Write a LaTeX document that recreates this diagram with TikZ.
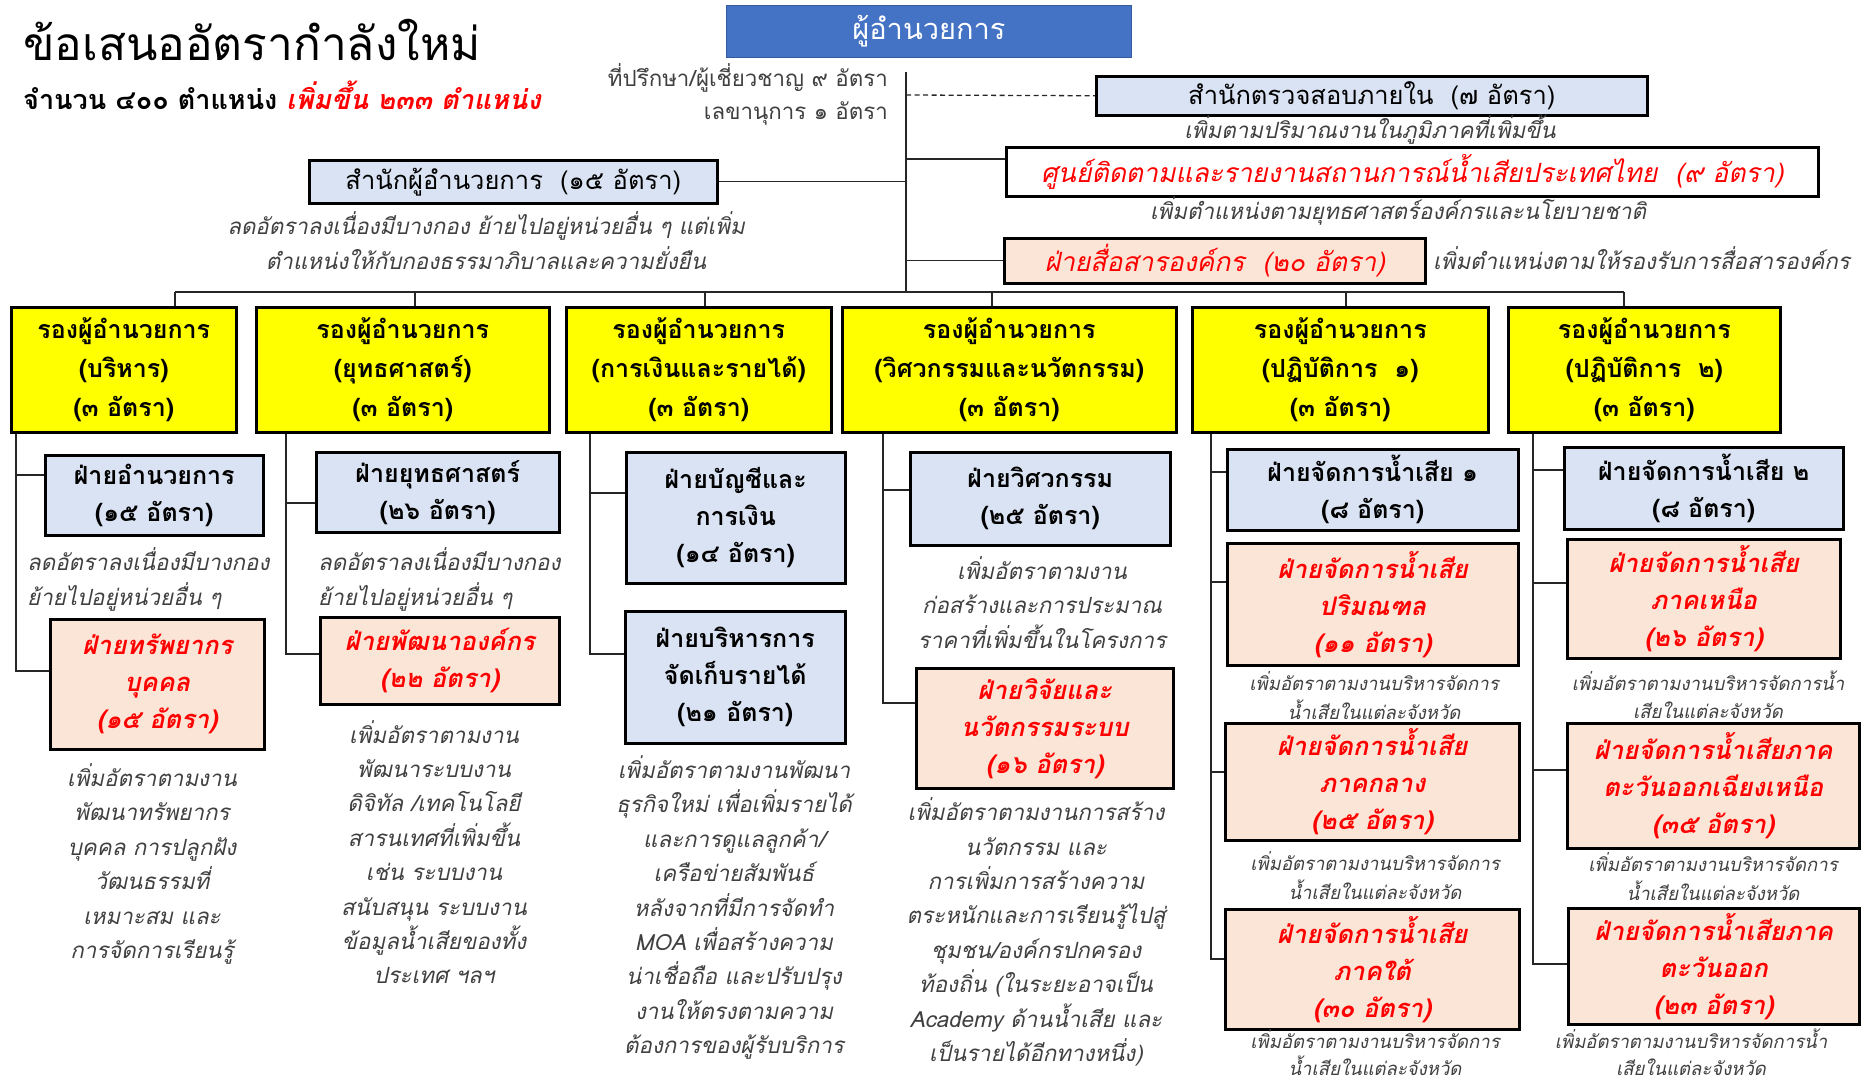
\documentclass[tikz,border=0pt]{standalone}
\usepackage{fontspec}
\setmainfont{Loma}[Script=Thai]
\definecolor{vpyellow}{HTML}{FFFF00}
\definecolor{boxblue}{HTML}{DAE3F3}
\definecolor{boxpeach}{HTML}{FBE5D6}
\definecolor{topblue}{HTML}{4472C4}
\definecolor{notegray}{HTML}{404040}
\newcommand\BX[7]{\node[#6, minimum width={#4-#2}, minimum height={#5-#3}] (#1) at (#2,#3) {#7};}
\begin{document}
\begin{tikzpicture}[x=1pt,y=-1pt,
  bx/.style={draw=black, line width=2.5pt, inner sep=0pt, align=center, anchor=north west},
  topbox/.style={bx, fill=topblue, draw=topblue!80!black, line width=0.8pt, text=white, font=\fontsize{29}{34}\selectfont},
  staff/.style={bx, fill=boxblue, font=\fontsize{25.5}{30}\selectfont},
  vp/.style={bx, fill=vpyellow, font=\bfseries\fontsize{25}{39}\selectfont},
  blu/.style={bx, fill=boxblue, font=\bfseries\fontsize{25}{37}\selectfont},
  pch/.style={bx, fill=boxpeach, text=red, font=\bfseries\itshape\fontsize{25.5}{37}\selectfont},
  note/.style={text=notegray, font=\itshape\fontsize{22.3}{34.4}\selectfont, align=center, inner sep=0pt},
  snote/.style={note, font=\itshape\fontsize{18.5}{28.5}\selectfont},
  ln/.style={line width=1.3pt, draw=black!85}
]
\useasboundingbox (0,0) rectangle (1870,1085);
\fill[white] (0,0) rectangle (1870,1085);

% title
\node[anchor=west, inner sep=0pt, font=\fontsize{46}{52}\selectfont] (title) at (23,40) {ข้อเสนออัตรากำลังใหม่};
\node[anchor=west, inner sep=0pt, font=\bfseries\fontsize{27}{30}\selectfont] (sub) at (23,95) {จำนวน ๔๐๐ ตำแหน่ง {\color{red}\itshape เพิ่มขึ้น ๒๓๓ ตำแหน่ง}};

% director
\BX{dir}{726}{5}{1131}{57}{topbox}{ผู้อำนวยการ}
\node[anchor=east, inner sep=0pt, text=notegray, font=\fontsize{22.3}{26}\selectfont] (adv) at (888,78) {ที่ปรึกษา/ผู้เชี่ยวชาญ ๙ อัตรา};
\node[anchor=east, inner sep=0pt, text=notegray, font=\fontsize{22.3}{26}\selectfont] (sec) at (888,113) {เลขานุการ ๑ อัตรา};

\coordinate (mtop) at (906,72);
\coordinate (mbot) at (906,292);
\draw[ln] (mtop) -- (mbot);

% staff units
\BX{aud}{1095}{75}{1646}{114}{staff}{สำนักตรวจสอบภายใน\ \ (๗ อัตรา)}
\coordinate (maud) at (906,95);
\draw[ln, dash pattern=on 5pt off 3.5pt] (maud) -- (aud.west);
\node[note] (audn) at (1370,130) {เพิ่มตามปริมาณงานในภูมิภาคที่เพิ่มขึ้น};

\BX{cen}{1005}{146}{1817}{195}{bx, fill=white, text=red, font=\itshape\fontsize{26.5}{30}\selectfont}{ศูนย์ติดตามและรายงานสถานการณ์น้ำเสียประเทศไทย\ \ (๙ อัตรา)}
\coordinate (mcen) at (906,159);
\draw[ln] (mcen) -- (cen.west |- mcen);
\node[note] (cenn) at (1398,211) {เพิ่มตำแหน่งตามยุทธศาสตร์องค์กรและนโยบายชาติ};

\BX{off}{308}{159}{716}{202}{staff}{สำนักผู้อำนวยการ\ \ (๑๕ อัตรา)}
\draw[ln] (off.east) -- (off.east -| mtop);
\node[note] (offn) at (486,240.5) {ลดอัตราลงเนื่องมีบางกอง ย้ายไปอยู่หน่วยอื่น ๆ แต่เพิ่ม\\ตำแหน่งให้กับกองธรรมาภิบาลและความยั่งยืน};

\BX{com}{1003}{237}{1424}{282}{bx, fill=boxpeach, text=red, font=\itshape\fontsize{26.5}{30}\selectfont}{ฝ่ายสื่อสารองค์กร\ \ (๒๐ อัตรา)}
\draw[ln] (com.west -| mtop) -- (com.west);
\node[note, anchor=west] (comn) at (1433,258) {เพิ่มตำแหน่งตามให้รองรับการสื่อสารองค์กร};

% bus
\coordinate (busL) at (175,292);
\coordinate (busR) at (1624,292);
\draw[ln] (busL) -- (busR);

% deputy directors
\BX{vp1}{10}{306}{235}{431}{vp}{รองผู้อำนวยการ\\(บริหาร)\\(๓ อัตรา)}
\BX{vp2}{255}{306}{548}{431}{vp}{รองผู้อำนวยการ\\(ยุทธศาสตร์)\\(๓ อัตรา)}
\BX{vp3}{565}{306}{830}{431}{vp}{รองผู้อำนวยการ\\(การเงินและรายได้)\\(๓ อัตรา)}
\BX{vp4}{841}{306}{1175}{431}{vp}{รองผู้อำนวยการ\\(วิศวกรรมและนวัตกรรม)\\(๓ อัตรา)}
\BX{vp5}{1191}{306}{1487}{431}{vp}{รองผู้อำนวยการ\\(ปฏิบัติการ\ \ ๑)\\(๓ อัตรา)}
\BX{vp6}{1507}{306}{1779}{431}{vp}{รองผู้อำนวยการ\\(ปฏิบัติการ\ \ ๒)\\(๓ อัตรา)}
\foreach \n/\x in {1/175,2/415,3/705,4/992,5/1346,6/1624}{
  \coordinate (d\n) at (\x,292);
  \draw[ln] (d\n) -- (d\n |- vp\n.north);
}

% ---- column 1
\BX{adm}{44}{454}{262}{534}{blu}{ฝ่ายอำนวยการ\\(๑๕ อัตรา)}
\node[note, align=left, anchor=west] (admn) at (27,579.5) {ลดอัตราลงเนื่องมีบางกอง\\ย้ายไปอยู่หน่วยอื่น ๆ};
\BX{hr}{49}{618}{263}{748}{pch}{ฝ่ายทรัพยากร\\บุคคล\\(๑๕ อัตรา)}
\node[note] (hrn) at (152,864) {เพิ่มอัตราตามงาน\\พัฒนาทรัพยากร\\บุคคล การปลูกฝัง\\วัฒนธรรมที่\\เหมาะสม และ\\การจัดการเรียนรู้};
\coordinate (c1a) at (16,475);
\draw[ln] (vp1.south -| c1a) -- (16,671) -- (hr.west |- 0,671);
\draw[ln] (c1a) -- (adm.west |- c1a);

% ---- column 2
\BX{str}{315}{451}{558}{531}{blu}{ฝ่ายยุทธศาสตร์\\(๒๖ อัตรา)}
\node[note, align=left, anchor=west] (strn) at (318,579.5) {ลดอัตราลงเนื่องมีบางกอง\\ย้ายไปอยู่หน่วยอื่น ๆ};
\BX{od}{319}{616}{558}{703}{pch}{ฝ่ายพัฒนาองค์กร\\(๒๒ อัตรา)}
\node[note] (odn) at (434,852) {เพิ่มอัตราตามงาน\\พัฒนาระบบงาน\\ดิจิทัล /เทคโนโลยี\\สารนเทศที่เพิ่มขึ้น\\เช่น ระบบงาน\\สนับสนุน ระบบงาน\\ข้อมูลน้ำเสียของทั้ง\\ประเทศ ฯลฯ};
\coordinate (c2a) at (286,503);
\draw[ln] (vp2.south -| c2a) -- (286,654) -- (od.west |- 0,654);
\draw[ln] (c2a) -- (str.west |- c2a);

% ---- column 3
\BX{acc}{625}{451}{844}{582}{blu}{ฝ่ายบัญชีและ\\การเงิน\\(๑๔ อัตรา)}
\BX{rev}{624}{610}{844}{742}{blu}{ฝ่ายบริหารการ\\จัดเก็บรายได้\\(๒๑ อัตรา)}
\node[note] (revn) at (734,907.5) {เพิ่มอัตราตามงานพัฒนา\\ธุรกิจใหม่ เพื่อเพิ่มรายได้\\และการดูแลลูกค้า/\\เครือข่ายสัมพันธ์\\หลังจากที่มีการจัดทำ\\MOA เพื่อสร้างความ\\น่าเชื่อถือ และปรับปรุง\\งานให้ตรงตามความ\\ต้องการของผู้รับบริการ};
\coordinate (c3a) at (590,493);
\draw[ln] (vp3.south -| c3a) -- (590,654) -- (rev.west |- 0,654);
\draw[ln] (c3a) -- (acc.west |- c3a);

% ---- column 4
\BX{eng}{909}{451}{1169}{544}{blu}{ฝ่ายวิศวกรรม\\(๒๕ อัตรา)}
\node[note] (engn) at (1042,602.5) {เพิ่มอัตราตามงาน\\ก่อสร้างและการประมาณ\\ราคาที่เพิ่มขึ้นในโครงการ};
\BX{rnd}{915}{667}{1172}{787}{pch}{ฝ่ายวิจัยและ\\นวัตกรรมระบบ\\(๑๖ อัตรา)}
\node[note] (rndn) at (1036,932) {เพิ่มอัตราตามงานการสร้าง\\นวัตกรรม และ\\การเพิ่มการสร้างความ\\ตระหนักและการเรียนรู้ไปสู่\\ชุมชน/องค์กรปกครอง\\ท้องถิ่น (ในระยะอาจเป็น\\Academy ด้านน้ำเสีย และ\\เป็นรายได้อีกทางหนึ่ง)};
\coordinate (c4a) at (883,490);
\draw[ln] (vp4.south -| c4a) -- (883,703) -- (rnd.west |- 0,703);
\draw[ln] (c4a) -- (eng.west |- c4a);

% ---- column 5
\BX{w1}{1226}{448}{1517}{529}{blu}{ฝ่ายจัดการน้ำเสีย ๑\\(๘ อัตรา)}
\BX{bkk}{1226}{542}{1517}{664}{pch}{ฝ่ายจัดการน้ำเสีย\\ปริมณฑล\\(๑๑ อัตรา)}
\node[snote] (bkkn) at (1374,695.5) {เพิ่มอัตราตามงานบริหารจัดการ\\น้ำเสียในแต่ละจังหวัด};
\BX{cen2}{1224}{722}{1518}{839}{pch}{ฝ่ายจัดการน้ำเสีย\\ภาคกลาง\\(๒๕ อัตรา)}
\node[snote] (cen2n) at (1375,875.5) {เพิ่มอัตราตามงานบริหารจัดการ\\น้ำเสียในแต่ละจังหวัด};
\BX{sth}{1224}{908}{1518}{1028}{pch}{ฝ่ายจัดการน้ำเสีย\\ภาคใต้\\(๓๐ อัตรา)}
\node[snote, font=\itshape\fontsize{18.5}{27}\selectfont] (sthn) at (1375,1053) {เพิ่มอัตราตามงานบริหารจัดการ\\น้ำเสียในแต่ละจังหวัด};
\coordinate (c5a) at (1211,472);
\coordinate (c5b) at (1211,582);
\coordinate (c5c) at (1211,772);
\draw[ln] (vp5.south -| c5a) -- (1211,959) -- (sth.west |- 0,959);
\draw[ln] (c5a) -- (w1.west |- c5a);
\draw[ln] (c5b) -- (bkk.west |- c5b);
\draw[ln] (c5c) -- (cen2.west |- c5c);

% ---- column 6
\BX{w2}{1563}{446}{1842}{528}{blu}{ฝ่ายจัดการน้ำเสีย ๒\\(๘ อัตรา)}
\BX{nth}{1566}{538}{1839}{657}{pch}{ฝ่ายจัดการน้ำเสีย\\ภาคเหนือ\\(๒๖ อัตรา)}
\node[snote] (nthn) at (1708,694.5) {เพิ่มอัตราตามงานบริหารจัดการน้ำ\\เสียในแต่ละจังหวัด};
\BX{ne}{1566}{722}{1858}{847}{pch}{ฝ่ายจัดการน้ำเสียภาค\\ตะวันออกเฉียงเหนือ\\(๓๕ อัตรา)}
\node[snote] (nen) at (1713,876.5) {เพิ่มอัตราตามงานบริหารจัดการ\\น้ำเสียในแต่ละจังหวัด};
\BX{est}{1567}{907}{1858}{1023}{pch}{ฝ่ายจัดการน้ำเสียภาค\\ตะวันออก\\(๒๓ อัตรา)}
\node[snote, font=\itshape\fontsize{18.5}{27}\selectfont] (estn) at (1691,1052) {เพิ่มอัตราตามงานบริหารจัดการน้ำ\\เสียในแต่ละจังหวัด};
\coordinate (c6a) at (1533,470);
\coordinate (c6b) at (1533,583);
\coordinate (c6c) at (1533,770);
\draw[ln] (vp6.south -| c6a) -- (1533,964) -- (est.west |- 0,964);
\draw[ln] (c6a) -- (w2.west |- c6a);
\draw[ln] (c6b) -- (nth.west |- c6b);
\draw[ln] (c6c) -- (ne.west |- c6c);
\end{tikzpicture}
\end{document}
